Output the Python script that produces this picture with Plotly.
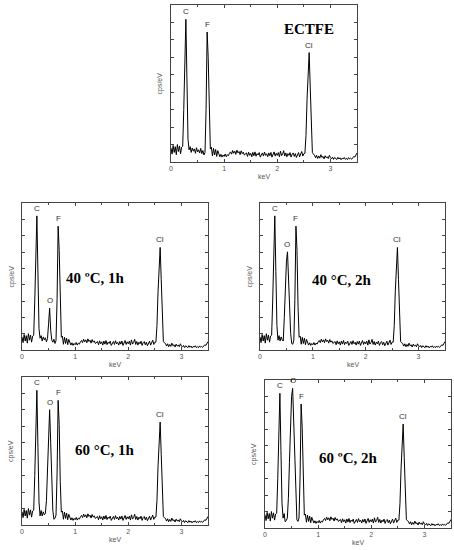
import plotly.graph_objects as go

# shared background (bremsstrahlung + noise), one value per 0.02 keV channel, 0 - 3.5 keV
base_cps = [
    80, 45, 95, 55, 88, 42, 100, 60, 92, 48, 85,
    80, 90, 100, 100, 90, 80, 70,
    88, 55, 80, 62, 75, 50, 82, 58, 70, 52, 78, 48, 66, 40, 60,
    60, 60, 60, 60, 60,
    85, 35, 78, 40, 72, 32, 65,
    38, 30, 44, 28, 40, 32, 46, 30, 42, 36, 50,
    58, 45, 66, 50, 62, 44, 68, 52, 60, 42, 64, 48, 56, 40, 50,
    52, 32, 56, 38, 50, 30, 55, 36, 58, 33, 48, 40, 54, 28, 46, 52, 34, 57, 38, 47,
    30, 52, 36, 55, 28, 46, 58, 34, 50, 38, 54, 30, 62, 36, 46, 65, 34, 52, 30, 48,
    38, 54, 28, 45, 52, 32, 48, 26, 42, 54, 30, 46, 60, 34, 48,
    52, 60, 60, 60, 60, 60, 60, 50, 44,
    40, 24, 38, 20, 34, 22, 42, 26, 32, 18, 36, 24, 30, 20, 38, 25,
    18, 28, 15, 26, 20, 14, 27, 17, 24, 13, 22, 18, 26, 15, 21, 14, 25, 17, 22, 16,
    24, 32, 28, 40, 52,
]
base_kev = [round(0.02 * i, 2) for i in range(len(base_cps))]

# peak windows (keV)
c_kev = [0.22, 0.24, 0.26, 0.28, 0.30, 0.32, 0.34]
f_kev = [0.64, 0.66, 0.68, 0.70, 0.72, 0.74]
cl_kev = [2.52, 2.54, 2.56, 2.58, 2.60, 2.62, 2.64, 2.66]
o_kev_40_1h = [0.48, 0.50, 0.52, 0.54, 0.56]
o_kev_40_2h = [0.44, 0.46, 0.48, 0.50, 0.52, 0.54, 0.56, 0.58, 0.60, 0.62]
o_kev_60_1h = [0.44, 0.46, 0.48, 0.50, 0.52, 0.54, 0.56, 0.58, 0.60, 0.62]
o_kev_60_2h = [0.38, 0.40, 0.42, 0.44, 0.46, 0.48, 0.50, 0.52, 0.54, 0.56, 0.58, 0.60, 0.62]

# ECTFE
ectfe_c = [90, 300, 560, 818, 470, 130, 70]
ectfe_f = [55, 300, 745, 600, 260, 75]
ectfe_cl = [50, 150, 360, 560, 627, 430, 190, 55]

# 40 C, 1h
t40_1h_c = [90, 300, 560, 821, 470, 130, 72]
t40_1h_o = [70, 160, 256, 120, 62]
t40_1h_f = [58, 310, 758, 610, 265, 78]
t40_1h_cl = [48, 150, 360, 560, 628, 430, 190, 52]

# 40 C, 2h
t40_2h_c = [90, 300, 560, 821, 480, 150, 60]
t40_2h_o = [55, 200, 380, 540, 601, 420, 230, 100, 40, 35]
t40_2h_f = [60, 310, 758, 610, 265, 78]
t40_2h_cl = [48, 150, 360, 560, 628, 430, 190, 52]

# 60 C, 1h
t60_1h_c = [90, 300, 560, 819, 470, 140, 55]
t60_1h_o = [70, 150, 380, 600, 701, 500, 280, 90, 35, 40]
t60_1h_f = [60, 310, 758, 610, 265, 78]
t60_1h_cl = [48, 150, 360, 560, 626, 430, 190, 52]

# 60 C, 2h
t60_2h_c = [90, 300, 560, 819, 470, 150, 60]
t60_2h_o = [38, 45, 60, 180, 400, 620, 800, 849, 640, 400, 180, 50, 40]
t60_2h_f = [60, 310, 754, 610, 265, 78]
t60_2h_cl = [48, 150, 360, 560, 632, 430, 190, 52]

panels = [
    dict(title="ECTFE", tx=2.6, ty=764, xd=(171, 357), yd=(5, 162),
         peaks=[("C", c_kev, ectfe_c), ("F", f_kev, ectfe_f), ("Cl", cl_kev, ectfe_cl)]),
    dict(title="40 ºC, 1h", tx=1.39, ty=439, xd=(22, 208), yd=(203, 350),
         peaks=[("C", c_kev, t40_1h_c), ("O", o_kev_40_1h, t40_1h_o),
                ("F", f_kev, t40_1h_f), ("Cl", cl_kev, t40_1h_cl)]),
    dict(title="40 °C, 2h", tx=1.55, ty=429, xd=(260, 445), yd=(203, 350),
         peaks=[("C", c_kev, t40_2h_c), ("O", o_kev_40_2h, t40_2h_o),
                ("F", f_kev, t40_2h_f), ("Cl", cl_kev, t40_2h_cl)]),
    dict(title="60 °C, 1h", tx=1.57, ty=458, xd=(22, 208), yd=(377, 525),
         peaks=[("C", c_kev, t60_1h_c), ("O", o_kev_60_1h, t60_1h_o),
                ("F", f_kev, t60_1h_f), ("Cl", cl_kev, t60_1h_cl)]),
    dict(title="60 ºC, 2h", tx=1.58, ty=424, xd=(265, 451), yd=(380, 528),
         peaks=[("C", c_kev, t60_2h_c), ("O", o_kev_60_2h, t60_2h_o),
                ("F", f_kev, t60_2h_f), ("Cl", cl_kev, t60_2h_cl)]),
]

W, H = 454, 550
AXIS_COL = "#444"
fig = go.Figure()


def build_spectrum(peaks):
    """Background channels outside the peak windows, plus the peak points."""
    windows = [(min(k), max(k)) for _, k, _ in peaks]
    pts = [(k, c) for k, c in zip(base_kev, base_cps)
           if not any(lo <= k <= hi for lo, hi in windows)]
    for _, k, c in peaks:
        pts.extend(zip(k, c))
    pts.sort()
    return [p[0] for p in pts], [p[1] for p in pts]


for i, p in enumerate(panels):
    n = "" if i == 0 else str(i + 1)
    xs, ys = build_spectrum(p["peaks"])
    fig.add_trace(go.Scatter(x=xs, y=ys, mode="lines", xaxis="x" + n, yaxis="y" + n,
                             line=dict(color="black", width=1), hoverinfo="skip"))

    x0, x1 = p["xd"]
    y0, y1 = p["yd"]
    fig.update_layout({
        "xaxis" + n: dict(
            domain=[x0 / W, x1 / W], anchor="y" + n, range=[0, 3.5], dtick=1,
            showgrid=False, zeroline=False, showline=True, mirror="allticks",
            linecolor=AXIS_COL, linewidth=1, ticks="inside", ticklen=3,
            tickcolor=AXIS_COL, tickfont=dict(family="Liberation Sans", size=7, color="#555"),
            minor=dict(dtick=0.5, ticks="inside", ticklen=2, tickcolor=AXIS_COL),
            automargin=False,
        ),
        "yaxis" + n: dict(
            domain=[1 - y1 / H, 1 - y0 / H], anchor="x" + n, range=[0, 900], dtick=100,
            showgrid=False, zeroline=False, showline=True, mirror="allticks",
            linecolor=AXIS_COL, linewidth=1, ticks="inside", ticklen=3,
            tickcolor=AXIS_COL, showticklabels=False, automargin=False,
        ),
    })

    # element labels above the peaks
    for name, k, c in p["peaks"]:
        top = max(c)
        fig.add_annotation(x=k[c.index(top)], y=top, xref="x" + n, yref="y" + n,
                           text=name, showarrow=False, yanchor="bottom", yshift=1,
                           font=dict(family="Liberation Sans", size=8, color="#333"))

    # sample label
    fig.add_annotation(x=p["tx"], y=p["ty"], xref="x" + n, yref="y" + n,
                       text="<b>" + p["title"] + "</b>", showarrow=False,
                       font=dict(family="Liberation Serif", size=15, color="black"))

    # axis titles
    fig.add_annotation(x=0.5, y=0, xref="x" + n + " domain", yref="y" + n + " domain",
                       text="keV", showarrow=False, yshift=-20,
                       font=dict(family="Liberation Sans", size=7, color="#555"))
    fig.add_annotation(x=0, y=0.5, xref="x" + n + " domain", yref="y" + n + " domain",
                       text="cps/eV", showarrow=False, xshift=-17, textangle=-90,
                       font=dict(family="Liberation Sans", size=7, color="#555"))

fig.update_layout(
    width=W, height=H, margin=dict(l=0, r=0, t=0, b=0),
    paper_bgcolor="white", plot_bgcolor="white", showlegend=False,
)

# drop the browser's default body margin so the figure fills the window
fig.write_html("out.html", config={"displayModeBar": False},
               post_script="document.body.style.margin='0';")
